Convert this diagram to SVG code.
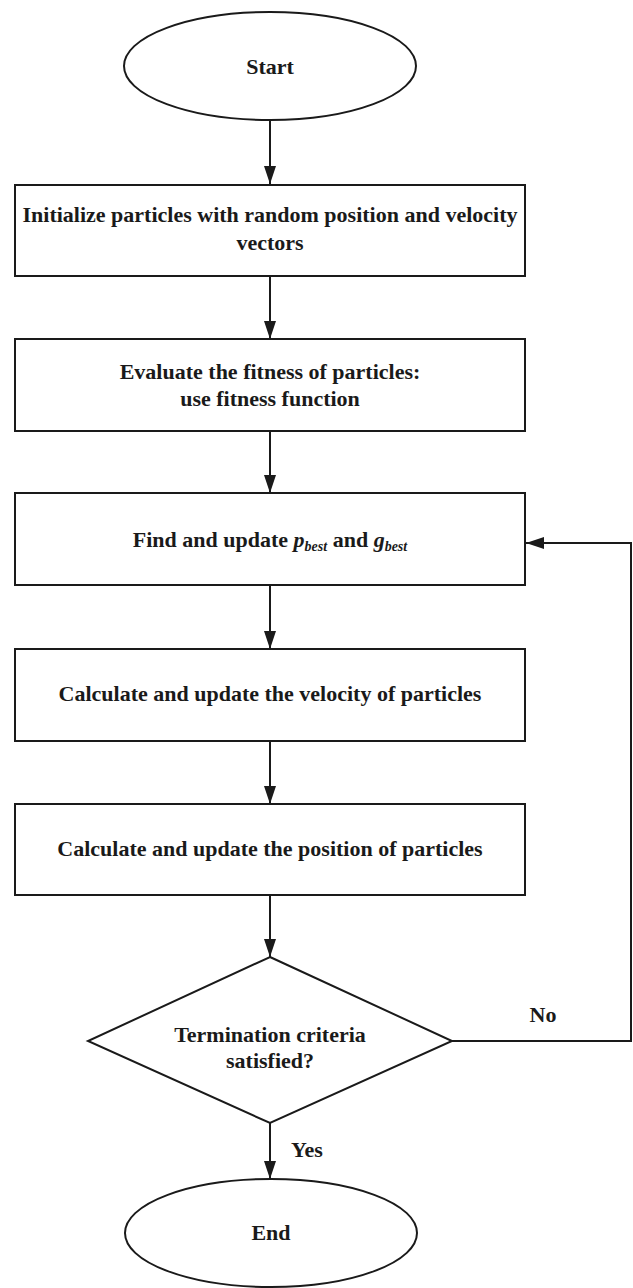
<svg xmlns="http://www.w3.org/2000/svg" width="633" height="1288" viewBox="0 0 633 1288">
<style>
.s{fill:#fff;stroke:#1a1a1a;stroke-width:2}
.t{font-family:"Liberation Serif","Times New Roman",serif;font-weight:bold;font-size:22px;fill:#1a1a1a;text-anchor:middle}
.c{fill:none;stroke:#1a1a1a;stroke-width:2}
.i{font-style:italic}
</style>
<defs>
<marker id="ah" markerWidth="18" markerHeight="12" refX="18" refY="6" orient="auto" markerUnits="userSpaceOnUse">
<path d="M0,0 L18,6 L0,12 Z" fill="#1a1a1a"/>
</marker>
</defs>
<rect width="633" height="1288" fill="#fff"/>
<g id="connectors">
<line class="c" x1="270" y1="121" x2="270" y2="184" marker-end="url(#ah)"/>
<line class="c" x1="270" y1="276" x2="270" y2="339" marker-end="url(#ah)"/>
<line class="c" x1="270" y1="431" x2="270" y2="493" marker-end="url(#ah)"/>
<line class="c" x1="270" y1="585" x2="270" y2="649" marker-end="url(#ah)"/>
<line class="c" x1="270" y1="741" x2="270" y2="804" marker-end="url(#ah)"/>
<line class="c" x1="270" y1="895" x2="270" y2="957" marker-end="url(#ah)"/>
<line class="c" x1="270" y1="1123" x2="270" y2="1179" marker-end="url(#ah)"/>
<polyline class="c" points="452,1041 631,1041 631,543 526,543" marker-end="url(#ah)"/>
<text class="t" x="543" y="1022">No</text>
<text class="t" x="307" y="1157">Yes</text>
</g>
<g id="start">
<ellipse class="s" cx="270" cy="66" rx="146" ry="54"/>
<text class="t" x="270" y="74">Start</text>
</g>
<g id="init">
<rect class="s" x="15" y="185" width="510" height="91"/>
<text class="t" x="270" y="222">Initialize particles with random position and velocity</text>
<text class="t" x="270" y="250">vectors</text>
</g>
<g id="evaluate">
<rect class="s" x="15" y="339" width="510" height="92"/>
<text class="t" x="270" y="379">Evaluate the fitness of particles:</text>
<text class="t" x="270" y="406">use fitness function</text>
</g>
<g id="find">
<rect class="s" x="15" y="493" width="510" height="92"/>
<text class="t" x="270" y="547">Find and update <tspan class="i">p</tspan><tspan class="i" font-size="14" dy="4">best</tspan><tspan dy="-4"> and </tspan><tspan class="i">g</tspan><tspan class="i" font-size="14" dy="4">best</tspan></text>
</g>
<g id="velocity">
<rect class="s" x="15" y="649" width="510" height="92"/>
<text class="t" x="270" y="701">Calculate and update the velocity of particles</text>
</g>
<g id="position">
<rect class="s" x="15" y="804" width="510" height="91"/>
<text class="t" x="270" y="856">Calculate and update the position of particles</text>
</g>
<g id="decision">
<polygon class="s" points="270,957 452,1041 270,1123 88,1041"/>
<text class="t" x="270" y="1042">Termination criteria</text>
<text class="t" x="270" y="1068">satisfied?</text>
</g>
<g id="end">
<ellipse class="s" cx="271" cy="1233" rx="146" ry="54"/>
<text class="t" x="271" y="1240">End</text>
</g>
</svg>
